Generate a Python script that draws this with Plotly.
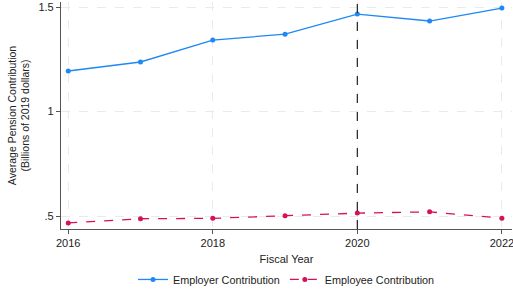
import plotly.graph_objects as go

years = [2016, 2017, 2018, 2019, 2020, 2021, 2022]
employer = [1.194, 1.237, 1.342, 1.370, 1.466, 1.433, 1.495]
employee = [0.467, 0.487, 0.489, 0.501, 0.514, 0.520, 0.490]
x_ticks = [2016, 2018, 2020, 2022]
y_ticks = [0.5, 1, 1.5]
y_labels = [".5", "1", "1.5"]
event_year = 2020

blue = "#1E88F5"
red = "#D6105A"
font = "Liberation Sans, Arial, sans-serif"

fig = go.Figure()
fig.add_trace(go.Scatter(x=years, y=employer, mode="lines+markers", name="Employer Contribution",
                         line=dict(color=blue, width=1.3), marker=dict(size=5, color=blue)))
fig.add_trace(go.Scatter(x=years, y=employee, mode="lines+markers", name="Employee Contribution",
                         line=dict(color=red, width=1.3, dash="dash"), marker=dict(size=5, color=red)))
fig.add_vline(x=event_year, line=dict(color="#222222", width=1.2, dash="dash"))

fig.update_layout(
    width=513, height=289,
    margin=dict(l=61, r=1, t=2, b=60, autoexpand=False),
    paper_bgcolor="white", plot_bgcolor="white",
    font=dict(family=font, size=11, color="#222222"),
    legend=dict(orientation="h", x=0.5, xanchor="center", yref="container", y=0.033,
                yanchor="middle", font=dict(size=10.8), itemwidth=30, bgcolor="rgba(0,0,0,0)"),
    xaxis=dict(range=[2015.9, 2022.14], tickvals=x_ticks, showline=True, linecolor="#555555",
               linewidth=1.2, ticks="outside", ticklen=4, tickcolor="#555555",
               showgrid=True, gridcolor="#eaeaea", griddash="dash", gridwidth=1,
               zeroline=False, automargin=False, ticklabeloverflow="allow",
               title=dict(text="Fiscal Year", standoff=8, font=dict(size=11))),
    yaxis=dict(range=[0.438, 1.524], tickvals=y_ticks, ticktext=y_labels, showline=True,
               linecolor="#555555", linewidth=1.2, ticks="outside", ticklen=4, tickcolor="#555555",
               showgrid=True, gridcolor="#eaeaea", griddash="dash", gridwidth=1, zeroline=False,
               automargin=False,
               title=dict(text="Average Pension Contribution<br>(Billions of 2019 dollars)",
                          standoff=6, font=dict(size=10.5))),
)
fig.write_html("out.html", config={"displayModeBar": False},
               post_script="document.body.style.margin='0';document.body.style.overflow='hidden';")
